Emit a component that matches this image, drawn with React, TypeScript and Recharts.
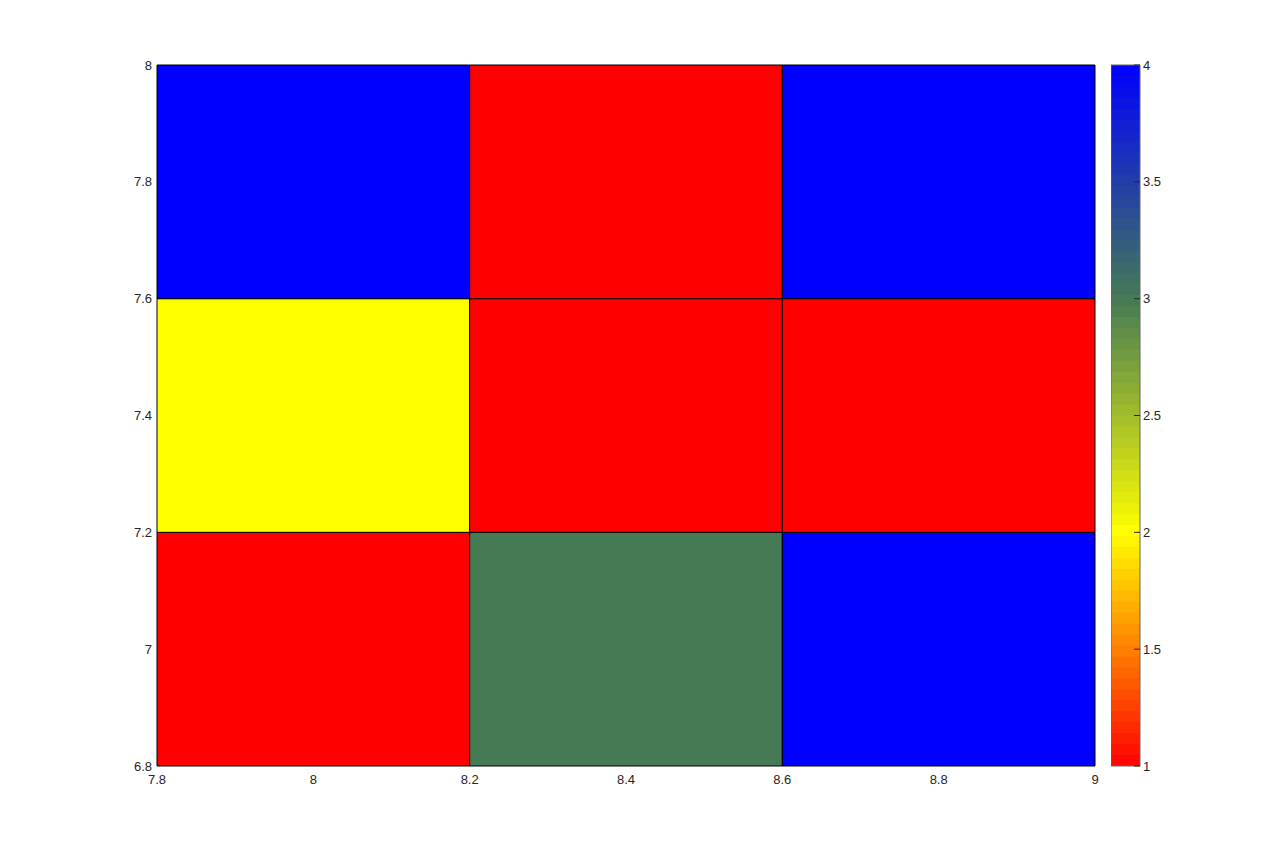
import React from "react"
import { ComposedChart, XAxis, YAxis, ReferenceArea } from "recharts"

// cell edges and values (rows from bottom to top)
const xEdges = [7.8, 8.2, 8.6, 9.0]
const yEdges = [6.8, 7.2, 7.6, 8.0]
const cellValues = [
  [1, 3, 4],
  [2, 1, 1],
  [4, 1, 4],
]
const xTicks = [7.8, 8, 8.2, 8.4, 8.6, 8.8, 9]
const yTicks = [6.8, 7, 7.2, 7.4, 7.6, 7.8, 8]
const cbTicks = [1, 1.5, 2, 2.5, 3, 3.5, 4]

// colormap stops: value -> rgb
const mapStops: [number, number[]][] = [
  [1, [255, 0, 0]],
  [2, [255, 255, 0]],
  [3, [69, 122, 85]],
  [4, [0, 0, 255]],
]
const cLevels = 64

function colorFor(v: number) {
  for (let i = 0; i < mapStops.length - 1; i++) {
    const [a, ca] = mapStops[i]
    const [b, cb] = mapStops[i + 1]
    if (v <= b || i === mapStops.length - 2) {
      const t = Math.max(0, Math.min(1, (v - a) / (b - a)))
      const c = ca.map((x, k) => Math.round(x + (cb[k] - x) * t))
      return `rgb(${c[0]},${c[1]},${c[2]})`
    }
  }
  return "#000"
}

const cells = cellValues.flatMap((row, r) =>
  row.map((v, c) => ({ x1: xEdges[c], x2: xEdges[c + 1], y1: yEdges[r], y2: yEdges[r + 1], v }))
)

// colorbar bands, each overlapping the next a little so no seams show
const bands = Array.from({ length: cLevels }, (_, i) => {
  const lo = 1 + (3 * i) / cLevels
  const hi = Math.min(4, 1 + (3 * (i + 1.3)) / cLevels)
  return { x: 0, lo, hi, color: colorFor(1 + (3 * (i + 0.5)) / cLevels) }
})

const font = "'Liberation Sans', Arial, Helvetica, sans-serif"
const textColor = "#262626"
const fmt = (v: number) => String(Math.round(v * 10) / 10)

const CbTick = (props: any) => {
  const { x, y, payload } = props
  return (
    <g>
      <line x1={x - 6} x2={x} y1={y} y2={y} stroke={textColor} strokeWidth={1} />
      <text x={x + 3} y={y} dy="0.355em" textAnchor="start" fontSize={13} fontFamily={font} fill={textColor}>
        {fmt(payload.value)}
      </text>
    </g>
  )
}

export default function App() {
  return (
    <div style={{ position: "absolute", left: 0, top: 0, width: 1280, height: 861, background: "#fff" }}>
      <div style={{ position: "absolute", left: 0, top: 0 }}>
        <ComposedChart width={1280} height={861} data={cells} margin={{ top: 65, right: 185, bottom: 65, left: 97 }}>
          <XAxis
            type="number"
            dataKey="x1"
            domain={[7.8, 9]}
            ticks={xTicks}
            allowDataOverflow
            tickFormatter={fmt}
            tickLine={false}
            tickSize={0}
            tickMargin={9}
            axisLine={false}
            height={30}
            tick={{ fontSize: 13, fontFamily: font, fill: textColor }}
          />
          <YAxis
            type="number"
            dataKey="y1"
            domain={[6.8, 8]}
            ticks={yTicks}
            allowDataOverflow
            tickFormatter={fmt}
            tickLine={false}
            tickSize={0}
            tickMargin={5}
            axisLine={false}
            width={60}
            tick={{ fontSize: 13, fontFamily: font, fill: textColor }}
          />
          {cells.map((c, i) => (
            <ReferenceArea
              key={i}
              x1={c.x1}
              x2={c.x2}
              y1={c.y1}
              y2={c.y2}
              fill={colorFor(c.v)}
              fillOpacity={1}
              stroke="#000"
              strokeWidth={1}
              ifOverflow="visible"
            />
          ))}
        </ComposedChart>
      </div>
      <div style={{ position: "absolute", left: 1111, top: 0 }}>
        <ComposedChart width={79} height={861} data={bands} margin={{ top: 65, right: 0, bottom: 95, left: 0 }}>
          <XAxis type="number" dataKey="x" domain={[0, 1]} allowDataOverflow hide />
          <YAxis
            type="number"
            dataKey="lo"
            orientation="right"
            domain={[1, 4]}
            ticks={cbTicks}
            allowDataOverflow
            tickLine={false}
            tickSize={0}
            tickMargin={0}
            axisLine={false}
            width={50}
            tick={<CbTick />}
          />
          {bands.map((b, i) => (
            <ReferenceArea
              key={i}
              x1={0}
              x2={1}
              y1={b.lo}
              y2={b.hi}
              fill={b.color}
              fillOpacity={1}
              stroke="none"
              ifOverflow="visible"
            />
          ))}
          <ReferenceArea x1={0} x2={1} y1={1} y2={4} fill="none" stroke="#666" strokeWidth={1} ifOverflow="visible" />
        </ComposedChart>
      </div>
    </div>
  )
}
